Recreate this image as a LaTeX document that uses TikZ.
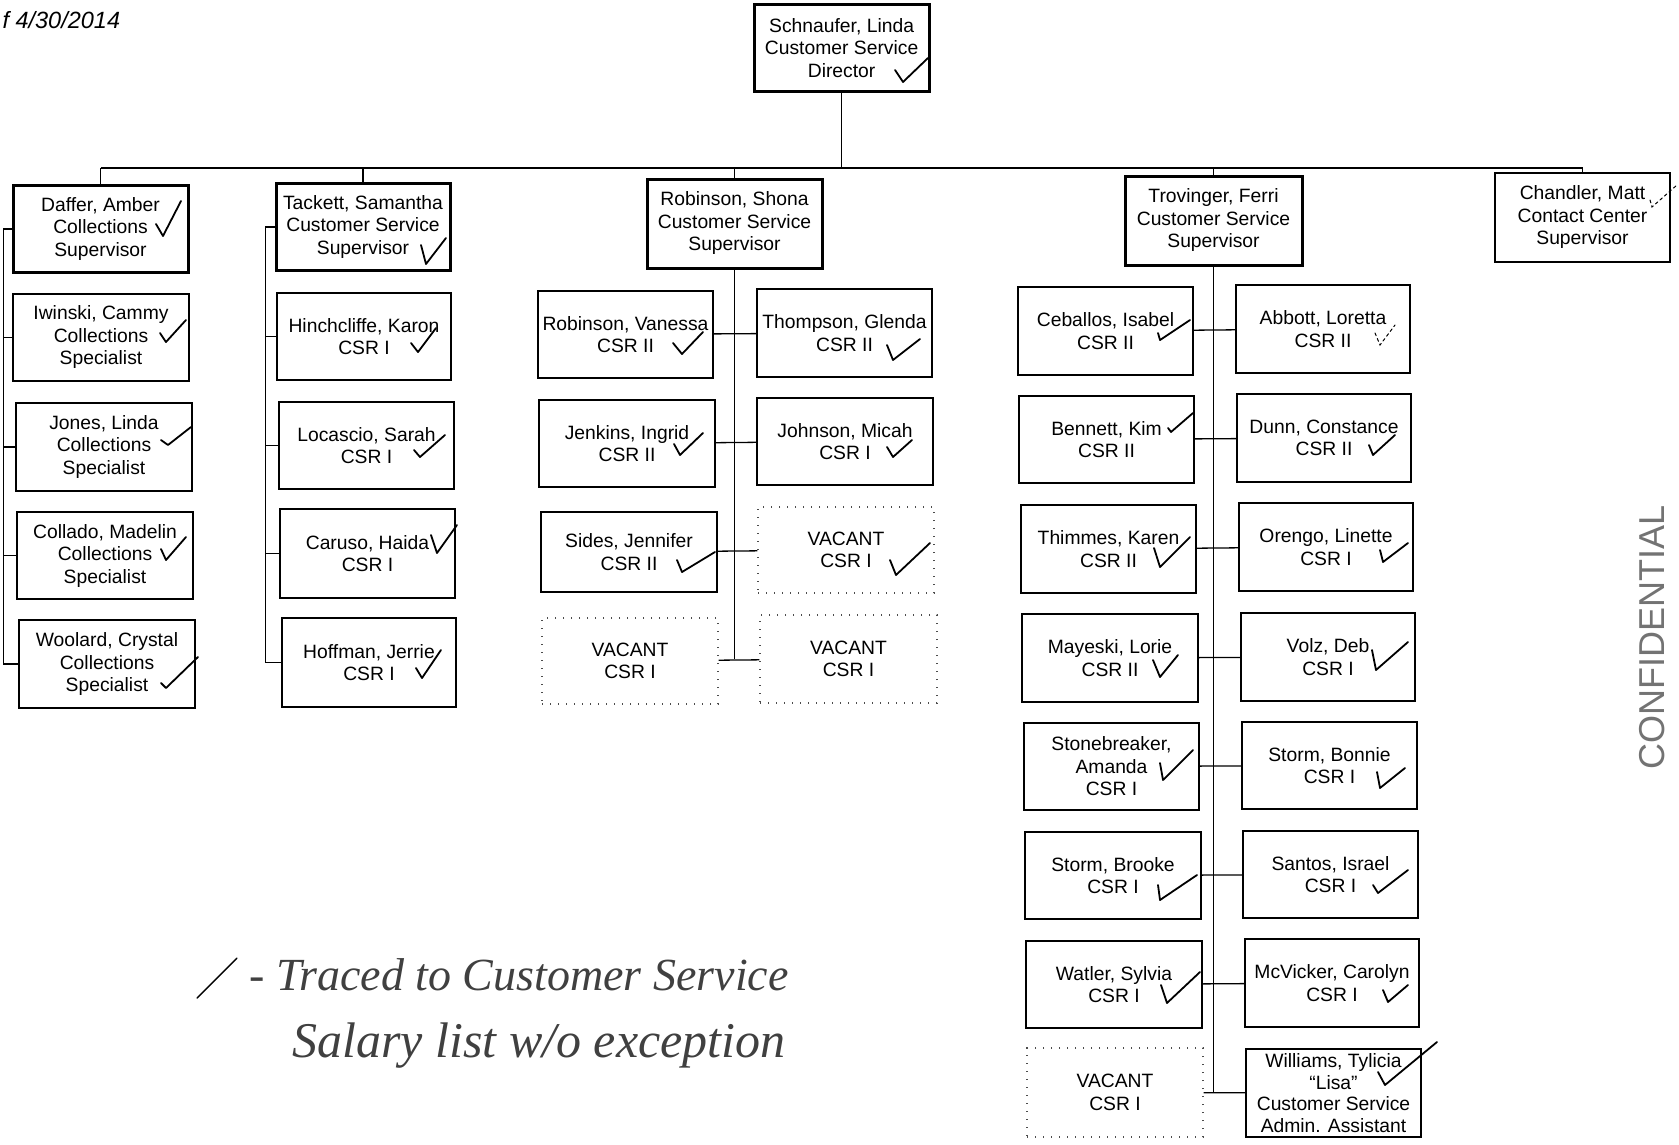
\documentclass[tikz,border=0pt]{standalone}
\usepackage{fontspec}
\setmainfont{Liberation Sans}
\newfontfamily\handfont{Liberation Serif}

% one hand-drawn tick: start, bottom, end
\newcommand{\Tick}[3]{\draw[tickmark] (#1) -- (#2) -- (#3);}

\begin{document}
\begin{tikzpicture}[x=1pt,y=-1pt,
				staff/.style={draw, line width=1.6pt, minimum width=175pt, minimum height=87pt,
					inner sep=0pt, align=center, font=\fontsize{19.3}{22.5}\selectfont},
				lead/.style={staff, line width=3pt},
				vacant/.style={staff, draw=black!70, line width=1.4pt, dash pattern=on 1.4pt off 6.6pt},
				link/.style={line width=1.3pt},
				tickmark/.style={line width=1.8pt, line cap=round, line join=round},
				faint/.style={line width=1pt, dashed, line cap=round}
				]
				\fill[white] (0,0) rectangle (1679,1144);
				\useasboundingbox (0,0) rectangle (1679,1144);
				\node[anchor=west, font=\fontsize{23.5}{26}\selectfont\itshape] (asof) at (-1,20) {f 4/30/2014};
				% director and supervisors
				\node[lead] (director) at (841.6,48) {Schnaufer, Linda\\Customer Service\\Director};
				\node[lead] (daffer) at (100.5,229) {Daffer, Amber\\Collections\\Supervisor};
				\node[lead, minimum width=174pt] (tackett) at (363,227) {Tackett, Samantha\\Customer Service\\Supervisor};
				\node[lead, minimum height=89pt] (shona) at (734.5,223.5) {Robinson, Shona\\Customer Service\\Supervisor};
				\node[lead, minimum width=177pt, minimum height=89pt] (trovinger) at (1213.5,220.5) {Trovinger, Ferri\\Customer Service\\Supervisor};
				\node[staff, minimum height=89pt] (chandler) at (1582.5,217.5) {Chandler, Matt\\Contact Center\\Supervisor};
				% collections
				\node[staff, minimum width=176pt] (iwinski) at (101,337.5) {Iwinski, Cammy\\Collections\\Specialist};
				\node[staff, minimum width=176pt, minimum height=88pt] (jones) at (104,447) {Jones, Linda\\Collections\\Specialist};
				\node[staff, minimum width=176pt] (collado) at (105,555.5) {Collado, Madelin\\Collections\\Specialist};
				\node[staff, minimum width=176pt, minimum height=88pt] (woolard) at (107,664) {Woolard, Crystal\\Collections\\Specialist};
				% tackett team
				\node[staff, minimum width=174pt] (hinchcliffe) at (364,336.5) {Hinchcliffe, Karon\\CSR I};
				\node[staff] (locascio) at (366.5,445.5) {Locascio, Sarah\\CSR I};
				\node[staff, minimum height=89pt] (caruso) at (367.5,553.5) {Caruso, Haida\\CSR I};
				\node[staff, minimum width=174pt, minimum height=89pt] (hoffman) at (369,662.5) {Hoffman, Jerrie\\CSR I};
				% robinson team
				\node[staff] (vanessa) at (625.5,334.5) {Robinson, Vanessa\\CSR II};
				\node[staff, minimum height=88pt] (thompson) at (844.5,333) {Thompson, Glenda\\CSR II};
				\node[staff, minimum width=176pt] (jenkins) at (627,443.5) {Jenkins, Ingrid\\CSR II};
				\node[staff, minimum width=176pt] (johnson) at (845,441.5) {Johnson, Micah\\CSR I};
				\node[staff, minimum width=176pt, minimum height=80pt] (sides) at (629,552) {Sides, Jennifer\\CSR II};
				\node[vacant, minimum width=176pt, minimum height=86pt] (vacantA) at (846,550) {VACANT\\CSR I};
				\node[vacant, minimum width=176pt, minimum height=86pt] (vacantB) at (630,661) {VACANT\\CSR I};
				\node[vacant, minimum width=177pt, minimum height=88pt] (vacantC) at (848.5,659) {VACANT\\CSR I};
				% trovinger team
				\node[staff, minimum height=88pt] (ceballos) at (1105.5,331) {Ceballos, Isabel\\CSR II};
				\node[staff, minimum width=174pt, minimum height=88pt] (abbott) at (1323,329) {Abbott, Loretta\\CSR II};
				\node[staff] (bennett) at (1106.5,439.5) {Bennett, Kim\\CSR II};
				\node[staff, minimum width=174pt, minimum height=88pt] (dunn) at (1324,438) {Dunn, Constance\\CSR II};
				\node[staff, minimum height=88pt] (thimmes) at (1108.5,549) {Thimmes, Karen\\CSR II};
				\node[staff, minimum width=174pt, minimum height=88pt] (orengo) at (1326,547) {Orengo, Linette\\CSR I};
				\node[staff, minimum width=176pt, minimum height=88pt] (mayeski) at (1110,658) {Mayeski, Lorie\\CSR II};
				\node[staff, minimum width=174pt, minimum height=88pt] (volz) at (1328,657) {Volz, Deb\\CSR I};
				\node[staff] (stonebreaker) at (1111.5,766.5) {Stonebreaker,\\Amanda\\CSR I};
				\node[staff] (bonnie) at (1329.5,765.5) {Storm, Bonnie\\CSR I};
				\node[staff, minimum width=176pt] (brooke) at (1113,875.5) {Storm, Brooke\\CSR I};
				\node[staff] (santos) at (1330.5,874.5) {Santos, Israel\\CSR I};
				\node[staff, minimum width=176pt] (watler) at (1114,984.5) {Watler, Sylvia\\CSR I};
				\node[staff, minimum width=174pt, minimum height=88pt] (mcvicker) at (1332,983) {McVicker, Carolyn\\CSR I};
				\node[vacant, minimum width=176pt, minimum height=89pt] (vacantD) at (1115,1092.5) {VACANT\\CSR I};
				\node[staff, minimum height=88pt, font=\fontsize{19.3}{21.6}\selectfont] (williams) at (1333.5,1093) {Williams, Tylicia\\``Lisa''\\Customer Service\\Admin. Assistant};
				% bus under the director
				\coordinate (busL) at (100.5,168);
				\coordinate (busR) at (1582.5,168);
				\draw[link] (busL) -- (busR);
				\draw[link] (director) -- (director |- busL);
				\foreach \s in {daffer,tackett,shona,trovinger,chandler}
					\draw[link] (\s) -- (\s |- busL);
				% side spines
				\draw[link] (daffer.west) -- ++(-8,0) coordinate (dspine) |- (woolard.west);
				\foreach \c in {iwinski,jones,collado}
					\draw[link] (\c.west) -- (\c.west -| dspine);
				\draw[link] (tackett.west) -- ++(-9,0) coordinate (tspine) |- (hoffman.west);
				\foreach \c in {hinchcliffe,locascio,caruso}
					\draw[link] (\c.west) -- (\c.west -| tspine);
				% centre spines
				\draw[link] (shona) -- (shona |- vacantC.west);
				\foreach \l/\r in {vanessa/thompson,jenkins/johnson,sides/vacantA,vacantB/vacantC}
					\draw[link] (\l) -- (\r);
				\draw[link] (trovinger) -- (trovinger |- williams.west);
				\foreach \l/\r in {ceballos/abbott,bennett/dunn,thimmes/orengo,mayeski/volz,stonebreaker/bonnie,brooke/santos,watler/mcvicker,vacantD/williams}
					\draw[link] (\l) -- (\r);
				% hand ticks
				\Tick{895,70}{903,82}{928,58}
				\Tick{156,224}{163,236}{181,201}
				\Tick{421,245}{426,264}{446,238}
				\Tick{160,333}{166,342}{186,320}
				\Tick{411,343}{418,352}{436,328}
				\Tick{161,440}{168,445}{191,427}
				\Tick{161,549}{166,560}{186,537}
				\Tick{161,683}{166,688}{198,657}
				\Tick{414,450}{420,457}{445,435}
				\Tick{431,535}{437,553}{457,525}
				\Tick{416,668}{422,678}{441,650}
				\Tick{673,343}{682,354}{703,332}
				\Tick{887,345}{893,360}{920,339}
				\Tick{674,444}{680,455}{703,433}
				\Tick{887,447}{893,457}{912,440}
				\Tick{677,560}{682,572}{715,552}
				\Tick{890,560}{896,575}{930,543}
				\Tick{1158,333}{1160,340}{1190,320}
				\Tick{1168,428}{1171,432}{1193,413}
				\Tick{1369,445}{1373,455}{1395,435}
				\Tick{1154,548}{1160,567}{1190,537}
				\Tick{1380,550}{1383,562}{1408,543}
				\Tick{1153,660}{1160,677}{1178,655}
				\Tick{1372,650}{1376,670}{1408,642}
				\Tick{1160,763}{1163,780}{1193,750}
				\Tick{1377,772}{1380,788}{1405,768}
				\Tick{1158,885}{1160,900}{1197,875}
				\Tick{1373,885}{1378,893}{1408,870}
				\Tick{1161,985}{1167,1003}{1200,972}
				\Tick{1383,990}{1388,1002}{1408,985}
				\Tick{1378,1072}{1385,1085}{1437,1042}
				\draw[faint] (1375,333) -- (1380,345) -- (1395,325);
				\draw[faint] (1650,200) -- (1652,207) -- (1677,185);
				% handwritten legend
				\draw[tickmark, line width=1.4pt] (197,998) -- (237,958);
				\node[anchor=west, text=black!75, font=\handfont\itshape\fontsize{46}{50}\selectfont] (legendA) at (246,975) {- Traced to Customer Service};
				\node[anchor=west, text=black!75, font=\handfont\itshape\fontsize{50}{54}\selectfont] (legendB) at (289,1046) {Salary list w/o exception};
				% stamp on the right edge
				\node[rotate=90, text=black!55, font=\fontsize{36}{40}\selectfont] (stamp) at (1652,637) {CONFIDENTIAL};
			\end{tikzpicture}
\end{document}
